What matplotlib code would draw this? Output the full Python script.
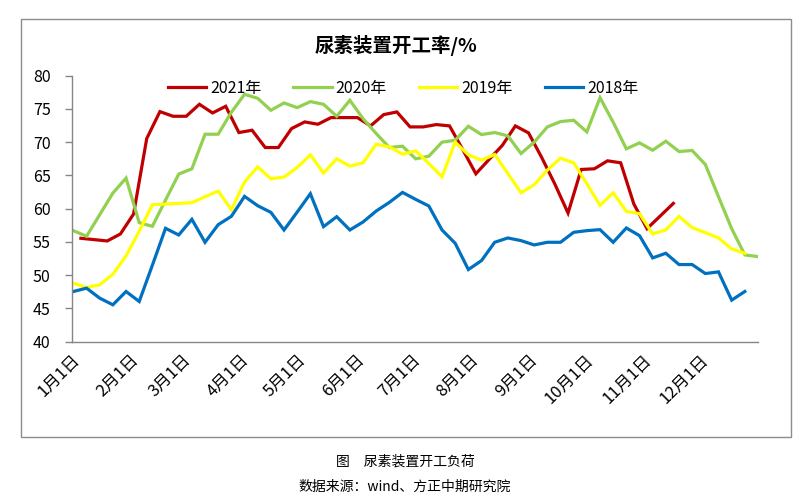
import numpy as np
import matplotlib
matplotlib.use("Agg")
import matplotlib.pyplot as plt
import matplotlib.patches as patches

plt.rcParams['font.family'] = ['Noto Sans CJK SC', 'DejaVu Sans']

# weekly operating rate (%), one value per week
y2021 = [55.55, 55.35, 55.15, 56.2, 59.2, 70.55, 74.6, 73.9, 73.9, 75.7,
         74.4, 75.4, 71.45, 71.8, 69.2, 69.2, 72.05, 73.05, 72.7, 73.7,
         73.7, 73.7, 72.45, 74.15, 74.55, 72.3, 72.3, 72.65, 72.45, 68.9,
         65.25, 67.4, 69.5, 72.45, 71.4, 67.7, 63.7, 59.35, 65.9, 66.0,
         67.2, 66.9, 60.7, 57.0, 58.9, 60.8]
y2020 = [56.7, 55.85, 59.1, 62.35, 64.6, 57.9, 57.35, 61.3, 65.2, 66.0,
         71.2, 71.2, 74.5, 77.2, 76.6, 74.8, 75.9, 75.2, 76.1, 75.7,
         73.9, 76.3, 73.55, 71.3, 69.2, 69.4, 67.5, 67.9, 70.0, 70.3,
         72.4, 71.15, 71.45, 70.95, 68.3, 70.0, 72.3, 73.1, 73.3, 71.55,
         76.7, 73.0, 69.0, 69.9, 68.8, 70.15, 68.6, 68.75, 66.65, 61.8,
         57.0, 53.05, 52.8]
y2019 = [48.8, 48.15, 48.55, 50.15, 52.9, 56.6, 60.6, 60.7, 60.8, 60.9,
         61.8, 62.65, 59.85, 64.0, 66.3, 64.5, 64.75, 66.2, 68.1, 65.35,
         67.5, 66.4, 66.9, 69.7, 69.3, 68.2, 68.7, 66.8, 64.8, 70.0,
         68.1, 67.3, 68.15, 65.3, 62.4, 63.6, 65.8, 67.6, 66.9, 63.75,
         60.5, 62.4, 59.6, 59.25, 56.2, 56.8, 58.85, 57.15, 56.4, 55.6,
         53.95, 53.3]
y2018 = [47.55, 48.05, 46.55, 45.55, 47.55, 46.05, 51.5, 57.05, 56.05, 58.4,
         54.95, 57.6, 58.85, 61.85, 60.45, 59.45, 56.8, 59.5, 62.25, 57.3,
         58.8, 56.8, 58.0, 59.65, 60.95, 62.45, 61.4, 60.4, 56.8, 54.8,
         50.85, 52.2, 54.95, 55.6, 55.2, 54.55, 54.95, 54.95, 56.45, 56.7,
         56.85, 54.95, 57.1, 55.95, 52.6, 53.3, 51.6, 51.6, 50.25, 50.5,
         46.25, 47.55]

# first day-of-year of each series (weekly data)
start_day = {'2021年': 5, '2020年': 1, '2019年': 1, '2018年': 1}

month_labels = ['1月1日', '2月1日', '3月1日', '4月1日', '5月1日', '6月1日',
                '7月1日', '8月1日', '9月1日', '10月1日', '11月1日', '12月1日']
month_days = [0, 31, 59, 90, 120, 151, 181, 212, 243, 273, 304, 334]

series = [('2021年', y2021, '#C00000'),
          ('2020年', y2020, '#92D050'),
          ('2019年', y2019, '#FFFF00'),
          ('2018年', y2018, '#0070C0')]

fig = plt.figure(figsize=(8.09, 4.99), dpi=100)
ax = fig.add_axes([71.5 / 809, 1 - 341.7 / 499, (758 - 71.5) / 809, (341.7 - 75.7) / 499])

for name, vals, col in series:
    x = start_day[name] + 7 * np.arange(len(vals))
    ax.plot(x, vals, color=col, lw=2.3, label=name, solid_joinstyle='miter')

ax.set_xlim(0, 365)
ax.set_ylim(40, 80)
ax.set_yticks(np.arange(40, 81, 5))
ax.set_xticks(month_days)
ax.set_xticklabels(month_labels, rotation=45, ha='right', va='top',
                   rotation_mode='anchor', fontsize=12)
ax.tick_params(axis='x', length=0, pad=7)
ax.tick_params(axis='y', length=5, width=1, color='#868686', pad=10, labelsize=11.5)

for s in ['top', 'right']:
    ax.spines[s].set_visible(False)
for s in ['left', 'bottom']:
    ax.spines[s].set_color('#868686')
    ax.spines[s].set_linewidth(1)

ax.legend(ncol=4, loc='center', bbox_to_anchor=(403 / 809, 1 - 88 / 499),
          bbox_transform=fig.transFigure, frameon=False, fontsize=11.5,
          handlelength=2.4, handletextpad=0.25, columnspacing=2.0)

fig.text(396 / 809, 1 - 45 / 499, '尿素装置开工率/%', ha='center', va='center',
         fontsize=14, fontweight='bold')

# outer chart border
fig.patches.append(patches.Rectangle((21 / 809, 1 - 437 / 499), 770 / 809, 418 / 499,
                                     transform=fig.transFigure, fill=False,
                                     edgecolor='#8c8c8c', lw=1))

fig.text(405 / 809, 1 - 462 / 499, '图　尿素装置开工负荷', ha='center', va='center', fontsize=10)
fig.text(405 / 809, 1 - 487 / 499, '数据来源：wind、方正中期研究院', ha='center', va='center', fontsize=10)

plt.savefig('out.png', dpi=100)
